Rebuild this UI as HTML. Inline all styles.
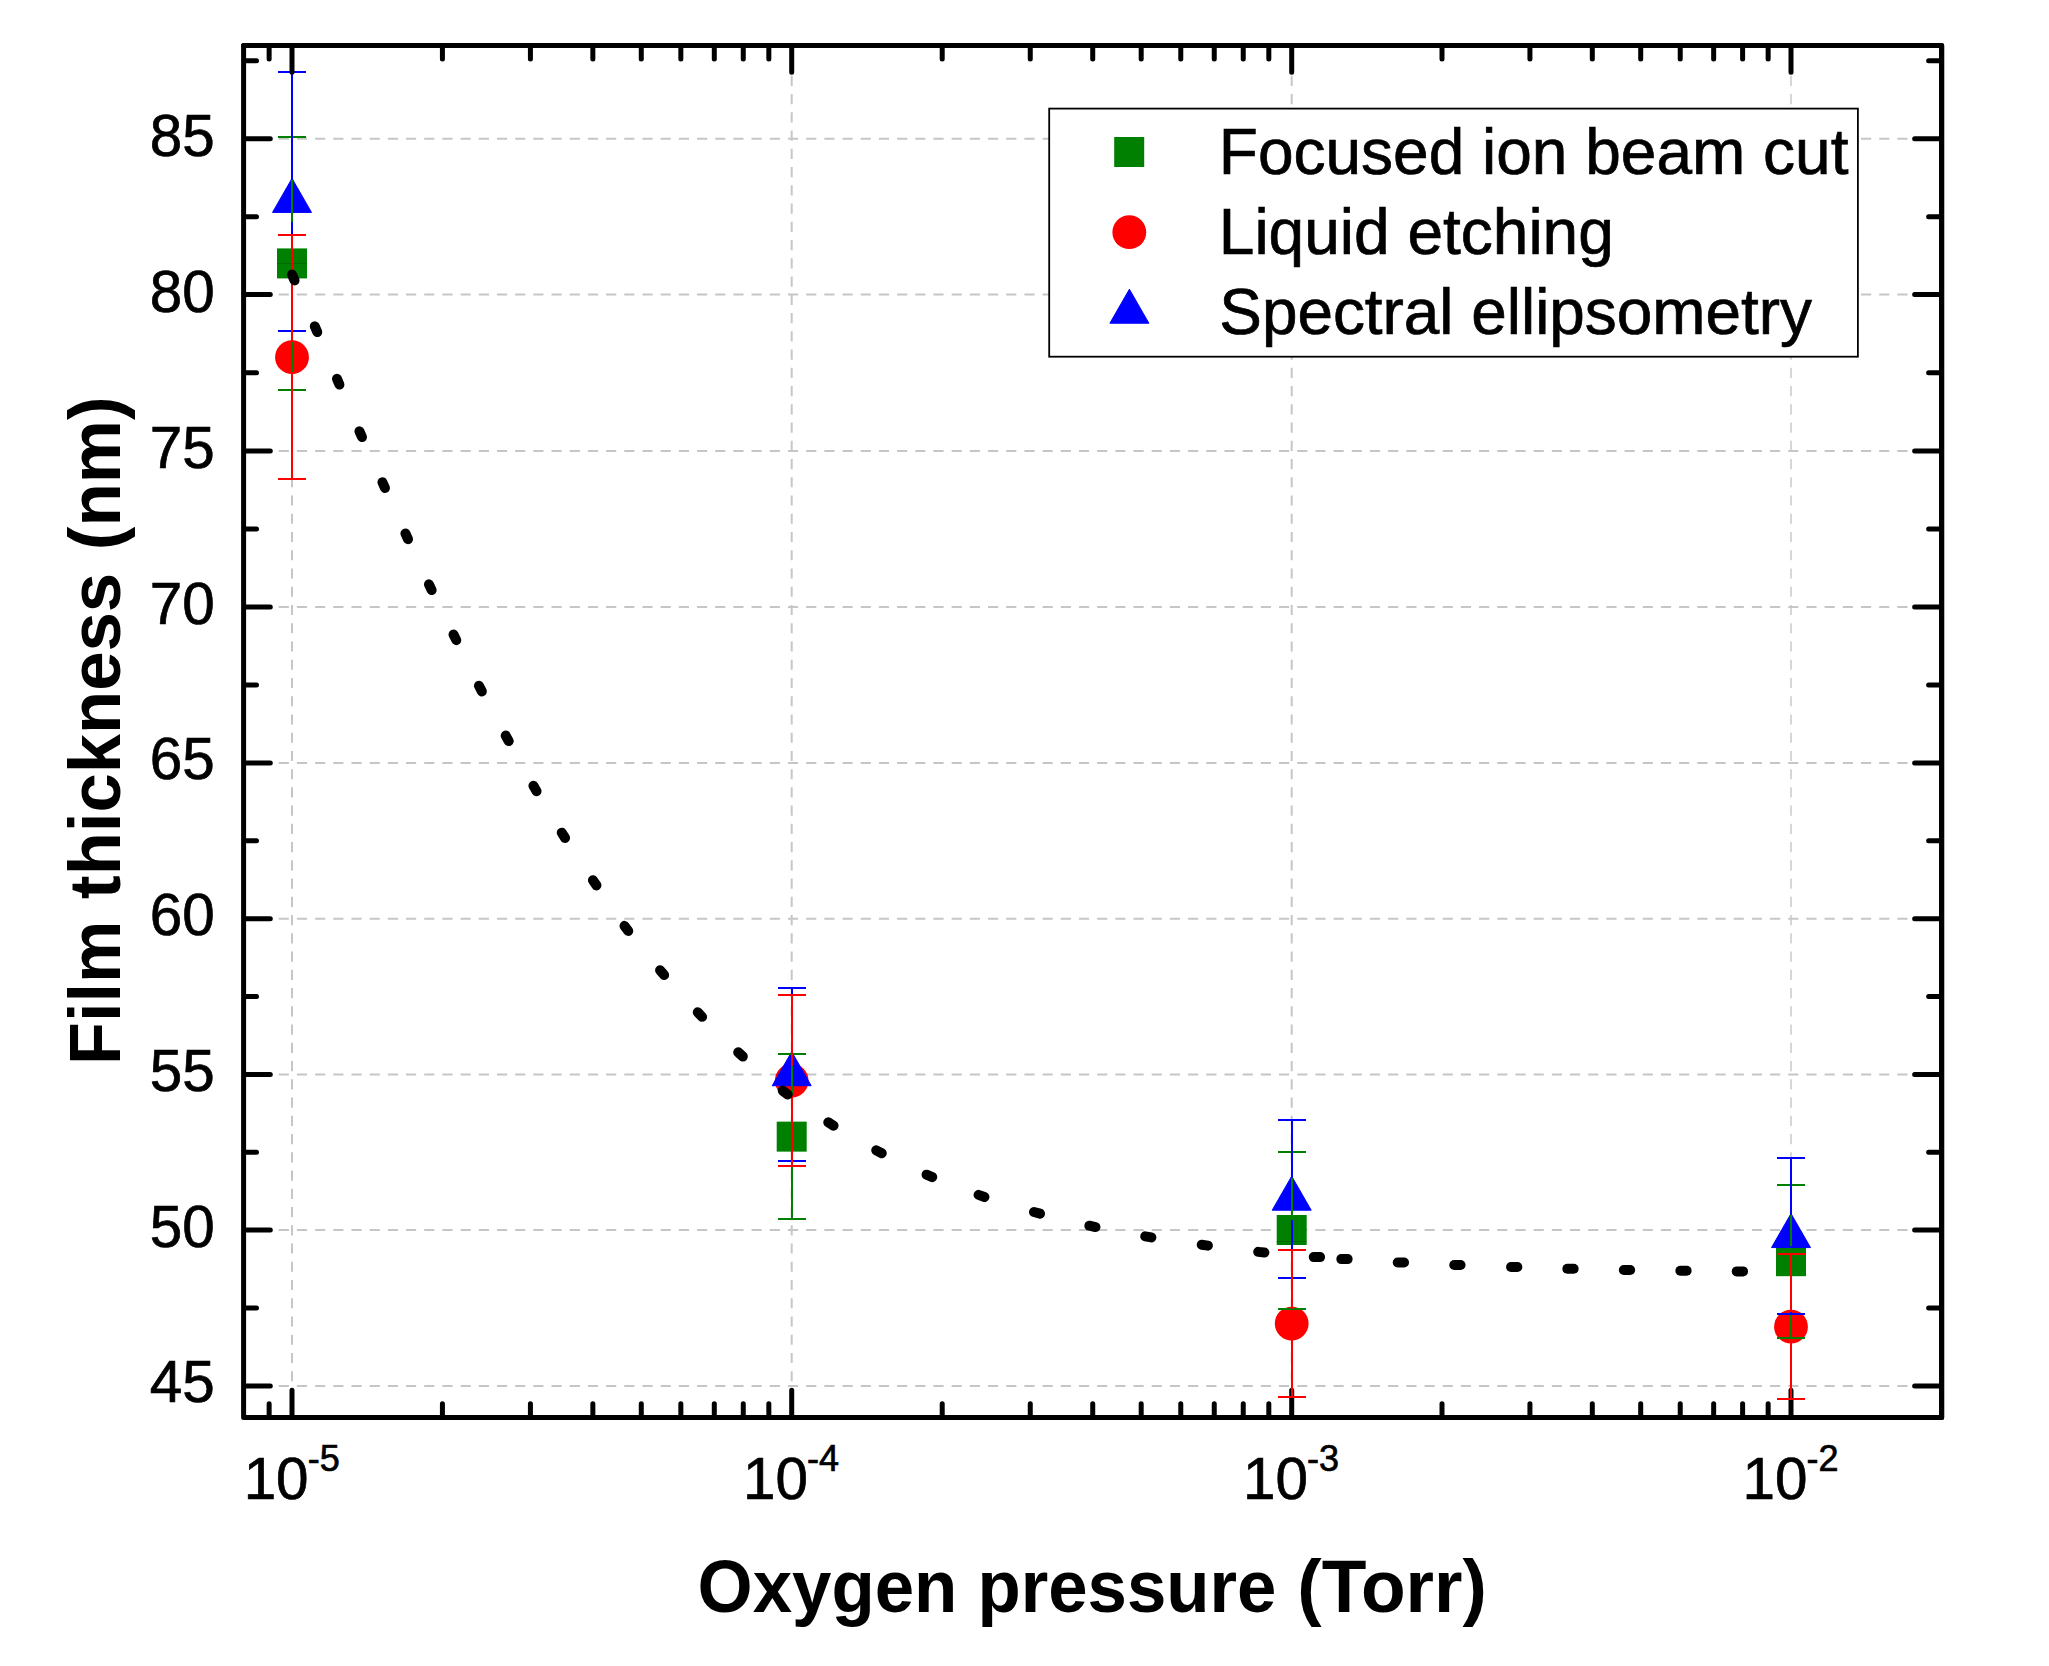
<!DOCTYPE html>
<html lang="en"><head><meta charset="utf-8"><title>Film thickness vs oxygen pressure</title>
<style>html,body{margin:0;padding:0;background:#fff}body{width:2049px;height:1666px;overflow:hidden}</style></head>
<body>
<svg width="2049" height="1666" viewBox="0 0 2049 1666" style="display:block">
<rect width="2049" height="1666" fill="#fff"/>
<g stroke="#c6c6c6" stroke-width="2" fill="none" stroke-dasharray="10.15 8.037">
<path d="M242.35 1385.90H1941.65"/>
<path d="M242.35 1230.00H1941.65"/>
<path d="M242.35 1074.40H1941.65"/>
<path d="M242.35 918.70H1941.65"/>
<path d="M242.35 763.00H1941.65"/>
<path d="M242.35 607.00H1941.65"/>
<path d="M242.35 451.00H1941.65"/>
<path d="M242.35 294.60H1941.65"/>
<path d="M242.35 138.70H1941.65"/>
</g>
<g stroke="#c6c6c6" stroke-width="2" fill="none" stroke-dasharray="10.15 8.094">
<path d="M292.00 57.61V1417.55"/>
<path d="M791.70 57.61V1417.55"/>
<path d="M1291.70 57.61V1417.55"/>
<path d="M1791.00 57.61V1417.55" stroke-width="1.4"/>
</g>
<g stroke="#000" stroke-width="5.0" fill="none" stroke-linecap="round" stroke-linejoin="round">
<rect x="243.6" y="45.55" width="1698.05" height="1372.00"/>
<path d="M244.6 1385.90h25.7M244.6 1307.95h11.9M244.6 1230.00h25.7M244.6 1152.20h11.9M244.6 1074.40h25.7M244.6 996.55h11.9M244.6 918.70h25.7M244.6 840.85h11.9M244.6 763.00h25.7M244.6 685.00h11.9M244.6 607.00h25.7M244.6 529.00h11.9M244.6 451.00h25.7M244.6 372.80h11.9M244.6 294.60h25.7M244.6 216.65h11.9M244.6 138.70h25.7M244.6 60.75h11.9M269.13 1416.55v-12.9M292.00 1416.55v-26.4M442.42 1416.55v-12.9M530.42 1416.55v-12.9M592.85 1416.55v-12.9M641.28 1416.55v-12.9M680.84 1416.55v-12.9M714.30 1416.55v-12.9M743.27 1416.55v-12.9M768.83 1416.55v-12.9M791.70 1416.55v-26.4M942.21 1416.55v-12.9M1030.26 1416.55v-12.9M1092.73 1416.55v-12.9M1141.19 1416.55v-12.9M1180.78 1416.55v-12.9M1214.25 1416.55v-12.9M1243.24 1416.55v-12.9M1268.82 1416.55v-12.9M1291.70 1416.55v-26.4M1442.00 1416.55v-12.9M1529.93 1416.55v-12.9M1592.31 1416.55v-12.9M1640.70 1416.55v-12.9M1680.23 1416.55v-12.9M1713.66 1416.55v-12.9M1742.61 1416.55v-12.9M1768.15 1416.55v-12.9M1791.00 1416.55v-26.4"/>
</g>
<rect x="277.00" y="248.42" width="30" height="30" fill="#008000"/>
<path d="M277.00 263.42h30" stroke="#005a00" stroke-width="0.8" opacity="0.8"/>
<rect x="776.70" y="1121.64" width="30" height="30" fill="#008000"/>
<rect x="1276.70" y="1215.00" width="30" height="30" fill="#008000"/>
<path d="M1276.70 1241.4h30" stroke="#005a00" stroke-width="0.8" opacity="0.8"/>
<rect x="1776.00" y="1246.18" width="30" height="30" fill="#008000"/>
<circle cx="292.00" cy="357.16" r="16.9" fill="#ff0000"/>
<circle cx="791.70" cy="1080.62" r="16.9" fill="#ff0000"/>
<circle cx="1291.70" cy="1323.54" r="16.9" fill="#ff0000"/>
<circle cx="1791.00" cy="1326.66" r="16.9" fill="#ff0000"/>
<path d="M272.50 212.39L292.00 178.39L311.50 212.39Z" fill="#0000ff" stroke="#0000ff" stroke-width="1" stroke-linejoin="round"/>
<path d="M772.20 1085.73L791.70 1051.73L811.20 1085.73Z" fill="#0000ff" stroke="#0000ff" stroke-width="1" stroke-linejoin="round"/>
<path d="M1272.20 1210.21L1291.70 1176.21L1311.20 1210.21Z" fill="#0000ff" stroke="#0000ff" stroke-width="1" stroke-linejoin="round"/>
<path d="M1771.50 1247.57L1791.00 1213.57L1810.50 1247.57Z" fill="#0000ff" stroke="#0000ff" stroke-width="1" stroke-linejoin="round"/>
<g stroke="#008000" stroke-width="2" fill="none" shape-rendering="crispEdges">
<path d="M292.00 137.14V248.42M292.00 278.42V390.00M277.90 137.14h28.2M277.90 390.00h28.2"/>
<path d="M791.70 1054.16V1121.64M791.70 1151.64V1219.11M777.60 1054.16h28.2M777.60 1219.11h28.2"/>
<path d="M1291.70 1151.58V1215.00M1291.70 1245.00V1308.57M1277.60 1151.58h28.2M1277.60 1308.57h28.2"/>
<path d="M1791.00 1184.88V1246.18M1791.00 1276.18V1337.57M1776.90 1184.88h28.2M1776.90 1337.57h28.2"/>
</g>
<g stroke="#0000ff" stroke-width="2" fill="none" shape-rendering="crispEdges">
<path d="M292.00 71.66V180.26M292.00 221.86V330.57M277.90 71.66h28.2M277.90 330.57h28.2"/>
<path d="M791.70 988.14V1053.60M791.70 1095.20V1160.60M777.60 988.14h28.2M777.60 1160.60h28.2"/>
<path d="M1291.70 1119.52V1178.08M1291.70 1219.68V1278.33M1277.60 1119.52h28.2M1277.60 1278.33h28.2"/>
<path d="M1791.00 1158.42V1215.44M1791.00 1257.04V1314.19M1776.90 1158.42h28.2M1776.90 1314.19h28.2"/>
</g>
<g stroke="#ff0000" stroke-width="2" fill="none" shape-rendering="crispEdges">
<path d="M292.00 235.36V342.36M292.00 371.96V479.08M277.90 235.36h28.2M277.90 479.08h28.2"/>
<path d="M791.70 994.99V1065.82M791.70 1095.42V1166.20M777.60 994.99h28.2M777.60 1166.20h28.2"/>
<path d="M1291.70 1250.27V1308.74M1291.70 1338.34V1396.81M1277.60 1250.27h28.2M1277.60 1396.81h28.2"/>
<path d="M1791.00 1254.01V1311.86M1791.00 1341.46V1399.31M1776.90 1254.01h28.2M1776.90 1399.31h28.2"/>
</g>
<g stroke="#000" stroke-width="10.0" stroke-linecap="round" fill="none">
<path d="M292.03 274.62L294.57 280.38"/>
<path d="M314.75 326.31L317.25 332.09"/>
<path d="M336.97 378.80L339.43 384.60"/>
<path d="M359.43 431.32L361.97 437.08"/>
<path d="M382.41 482.23L384.99 487.97"/>
<path d="M405.39 533.43L408.01 539.17"/>
<path d="M428.94 584.36L431.66 590.04"/>
<path d="M453.50 634.48L456.30 640.12"/>
<path d="M478.95 685.80L481.85 691.40"/>
<path d="M505.69 735.54L508.71 741.06"/>
<path d="M533.42 785.78L536.58 791.22"/>
<path d="M561.72 832.64L565.08 837.96"/>
<path d="M592.93 880.19L596.47 885.41"/>
<path d="M624.51 925.88L628.29 930.92"/>
<path d="M660.06 970.20L664.14 975.00"/>
<path d="M697.72 1012.33L702.08 1016.87"/>
<path d="M738.18 1052.27L742.82 1056.53"/>
<path d="M782.70 1090.68L787.70 1094.52"/>
<path d="M828.24 1122.32L833.56 1125.68"/>
<path d="M876.21 1150.33L881.79 1153.27"/>
<path d="M926.51 1174.66L932.29 1177.14"/>
<path d="M978.52 1194.88L984.48 1196.92"/>
<path d="M1033.96 1211.97L1040.04 1213.63"/>
<path d="M1089.32 1225.73L1095.48 1227.07"/>
<path d="M1145.19 1236.38L1151.41 1237.42"/>
<path d="M1201.68 1244.78L1207.92 1245.62"/>
<path d="M1258.17 1251.87L1264.43 1252.53"/>
<path d="M1313.75 1257.10L1320.05 1257.10"/>
<path d="M1341.35 1259.10L1347.65 1259.10"/>
<path d="M1397.75 1262.50L1404.05 1262.50"/>
<path d="M1454.25 1265.00L1460.55 1265.00"/>
<path d="M1511.05 1267.00L1517.35 1267.00"/>
<path d="M1567.35 1268.80L1573.65 1268.80"/>
<path d="M1623.85 1270.00L1630.15 1270.00"/>
<path d="M1680.35 1270.80L1686.65 1270.80"/>
<path d="M1736.75 1271.40L1743.05 1271.40"/>
</g>
<g stroke="#000" stroke-width="5.0" fill="none" stroke-linecap="round" stroke-linejoin="round">
<path d="M243.6 45.55H1941.65V1417.55"/>
<path d="M1940.65 1385.90h-26.0M1940.65 1307.95h-12.0M1940.65 1230.00h-26.0M1940.65 1152.20h-12.0M1940.65 1074.40h-26.0M1940.65 996.55h-12.0M1940.65 918.70h-26.0M1940.65 840.85h-12.0M1940.65 763.00h-26.0M1940.65 685.00h-12.0M1940.65 607.00h-26.0M1940.65 529.00h-12.0M1940.65 451.00h-26.0M1940.65 372.80h-12.0M1940.65 294.60h-26.0M1940.65 216.65h-12.0M1940.65 138.70h-26.0M1940.65 60.75h-12.0M269.13 46.55v12.4M292.00 46.55v25.8M442.42 46.55v12.4M530.42 46.55v12.4M592.85 46.55v12.4M641.28 46.55v12.4M680.84 46.55v12.4M714.30 46.55v12.4M743.27 46.55v12.4M768.83 46.55v12.4M791.70 46.55v25.8M942.21 46.55v12.4M1030.26 46.55v12.4M1092.73 46.55v12.4M1141.19 46.55v12.4M1180.78 46.55v12.4M1214.25 46.55v12.4M1243.24 46.55v12.4M1268.82 46.55v12.4M1291.70 46.55v25.8M1442.00 46.55v12.4M1529.93 46.55v12.4M1592.31 46.55v12.4M1640.70 46.55v12.4M1680.23 46.55v12.4M1713.66 46.55v12.4M1742.61 46.55v12.4M1768.15 46.55v12.4M1791.00 46.55v25.8"/>
</g>
<rect x="1049.2" y="108.6" width="808.7" height="248.1" fill="#fff" stroke="#000" stroke-width="1.8"/>
<rect x="1114.20" y="137.00" width="30" height="30" fill="#008000"/>
<circle cx="1129.30" cy="232.20" r="16.9" fill="#ff0000"/>
<path d="M1109.90 323.23L1129.40 289.23L1148.90 323.23Z" fill="#0000ff" stroke="#0000ff" stroke-width="1" stroke-linejoin="round"/>
<g font-family="'Liberation Sans', Arial, sans-serif" font-size="64" fill="#000" stroke="#000" stroke-width="0.7">
<text x="1218.80" y="174.1" textLength="629.70" lengthAdjust="spacingAndGlyphs">Focused ion beam cut</text>
<text x="1218.80" y="254.3" textLength="395.00" lengthAdjust="spacingAndGlyphs">Liquid etching</text>
<text x="1219.30" y="333.8" textLength="592.60" lengthAdjust="spacingAndGlyphs">Spectral ellipsometry</text>
</g>
<g font-family="'Liberation Sans', Arial, sans-serif" font-size="58.4" fill="#000" stroke="#000" stroke-width="0.7">
<text x="214.8" y="1402.36" text-anchor="end">45</text>
<text x="214.8" y="1246.62" text-anchor="end">50</text>
<text x="214.8" y="1090.87" text-anchor="end">55</text>
<text x="214.8" y="935.12" text-anchor="end">60</text>
<text x="214.8" y="779.38" text-anchor="end">65</text>
<text x="214.8" y="623.63" text-anchor="end">70</text>
<text x="214.8" y="467.89" text-anchor="end">75</text>
<text x="214.8" y="312.14" text-anchor="end">80</text>
<text x="214.8" y="156.40" text-anchor="end">85</text>
<text x="243.65" y="1498.7">10<tspan font-size="36" dx="-0.9" dy="-28.0">-5</tspan></text>
<text x="743.05" y="1498.7">10<tspan font-size="36" dx="-0.9" dy="-28.0">-4</tspan></text>
<text x="1243.05" y="1498.7">10<tspan font-size="36" dx="-0.9" dy="-28.0">-3</tspan></text>
<text x="1742.45" y="1498.7">10<tspan font-size="36" dx="-0.9" dy="-28.0">-2</tspan></text>
</g>
<g font-family="'Liberation Sans', Arial, sans-serif" font-weight="bold" font-size="73.5" fill="#000">
<text y="1612"><tspan x="697.60" textLength="259.80" lengthAdjust="spacingAndGlyphs">Oxygen</tspan> <tspan x="977.45" textLength="299.05" lengthAdjust="spacingAndGlyphs">pressure</tspan> <tspan x="1297.30" textLength="189.55" lengthAdjust="spacingAndGlyphs">(Torr)</tspan></text>
</g>
<g font-family="'Liberation Sans', Arial, sans-serif" font-weight="bold" font-size="72.5" fill="#000" transform="translate(120.2,0) rotate(-90)">
<text y="0"><tspan x="-1064.95" textLength="144.20" lengthAdjust="spacingAndGlyphs">Film</tspan> <tspan x="-898.90" textLength="326.00" lengthAdjust="spacingAndGlyphs">thickness</tspan> <tspan x="-550.20" textLength="153.80" lengthAdjust="spacingAndGlyphs">(nm)</tspan></text>
</g>
</svg>
</body></html>
